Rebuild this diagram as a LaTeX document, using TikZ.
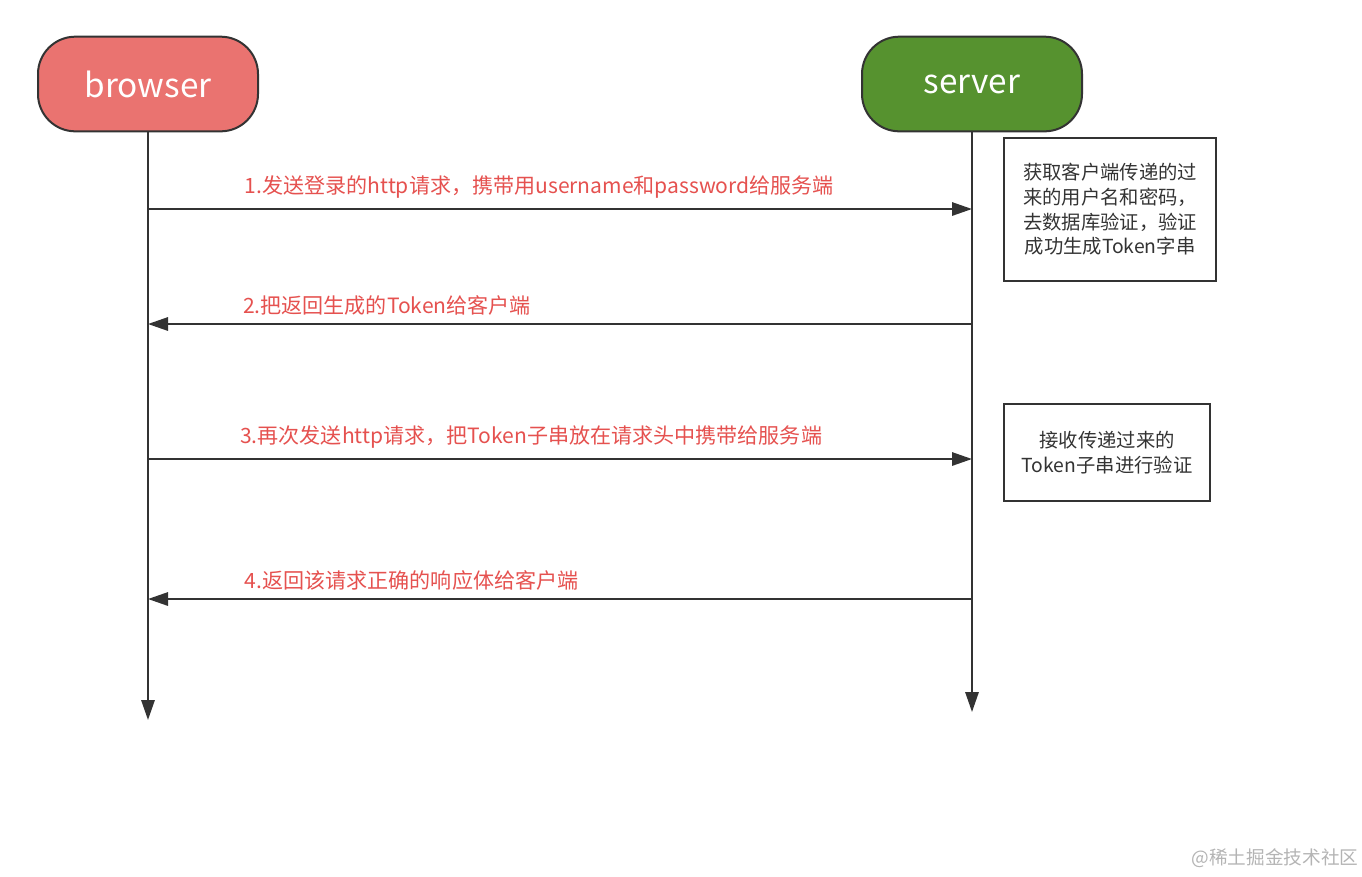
\documentclass[tikz,border=0pt]{standalone}
\usepackage{fontspec}
\setmainfont{Noto Sans CJK SC}
\usetikzlibrary{arrows.meta,positioning,calc}
\definecolor{browserred}{HTML}{EA7370}
\definecolor{servergreen}{HTML}{56922F}
\definecolor{linegray}{HTML}{333333}
\definecolor{msgred}{HTML}{E5514F}
\definecolor{markgray}{HTML}{B4B4B4}

\begin{document}
\begin{tikzpicture}[x=0.75pt, y=-0.75pt, line width=1.5pt, draw=linegray,
        >={Triangle[length=15pt,width=10pt]}, node distance=451.5pt]
        \tikzstyle{actor}=[draw=linegray,line width=1.5pt,rounded corners=28pt,
            minimum width=165pt,minimum height=71pt,text=white,
            font=\fontsize{25}{30}\selectfont]
        \tikzstyle{msg}=[above,inner sep=7pt,text=msgred,font=\fontsize{15.8}{19}\selectfont]
        \tikzstyle{note}=[draw=linegray,line width=1.5pt,align=center,text=linegray,
            font=\fontsize{14.5}{18.5}\selectfont]
        \useasboundingbox (0,0) rectangle (1362,876);

        \node[actor,fill=browserred]    (browser) at (148,84)       {browser};
        \node[actor,fill=servergreen]   (server)[right=of browser]  {server};

        \node[note,minimum width=159pt,minimum height=107pt]  (check) at (1110,209.5)
            {获取客户端传递的过\\来的用户名和密码，\\去数据库验证，验证\\成功生成Token字串};
        \node[note,minimum width=154.5pt,minimum height=73pt] (verify) at (1107,452.5)
            {接收传递过来的\\Token子串进行验证};

        % lifelines
        \coordinate (bEnd) at (browser.south |- 0,720);
        \coordinate (sEnd) at (server.south |- 0,712);
        \draw[->] (browser) -- (bEnd);
        \draw[->] (server) -- (sEnd);

        % message ends on the lifelines
        \coordinate (b1) at (browser.south |- 0,209);
        \coordinate (s1) at (server.south |- 0,209);
        \coordinate (b2) at (browser.south |- 0,324);
        \coordinate (s2) at (server.south |- 0,324);
        \coordinate (b3) at (browser.south |- 0,459);
        \coordinate (s3) at (server.south |- 0,459);
        \coordinate (b4) at (browser.south |- 0,599);
        \coordinate (s4) at (server.south |- 0,599);

        \path[->]
        (b1)
        edge    node[msg,pos=0.475]{1.发送登录的http请求，携带用username和password给服务端}  (s1)
        (s2)
        edge    node[msg,pos=0.71,inner sep=6pt]{2.把返回生成的Token给客户端}            (b2)
        (b3)
        edge    node[msg,pos=0.465]{3.再次发送http请求，把Token子串放在请求头中携带给服务端}   (s3)
        (s4)
        edge    node[msg,pos=0.68,inner sep=5.5pt]{4.返回该请求正确的响应体给客户端}        (b4);

        \node[text=markgray,font=\fontsize{14}{16}\selectfont] (mark) at (1275,858) {@稀土掘金技术社区};
    \end{tikzpicture}
\end{document}
